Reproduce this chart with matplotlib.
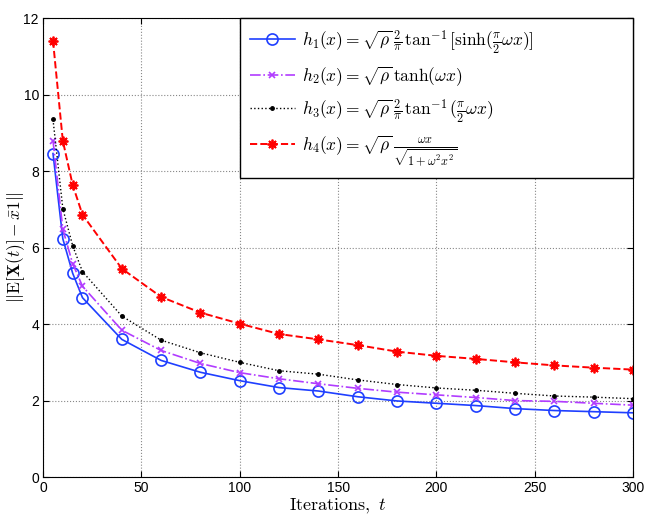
import numpy as np
import matplotlib
matplotlib.use('Agg')
import matplotlib.pyplot as plt

plt.rcParams['mathtext.fontset'] = 'cm'
plt.rcParams['font.family'] = ['Liberation Sans', 'DejaVu Sans']

# iterations
t = [5, 10, 15, 20, 40, 60, 80, 100, 120, 140, 160, 180, 200, 220, 240, 260, 280, 300]

# error norms
h1 = [8.46, 6.23, 5.33, 4.69, 3.60, 3.05, 2.74, 2.52, 2.34, 2.25, 2.10, 1.99, 1.93, 1.87, 1.79, 1.74, 1.71, 1.68]
h2 = [8.80, 6.48, 5.58, 4.99, 3.84, 3.31, 2.97, 2.73, 2.57, 2.44, 2.32, 2.22, 2.15, 2.08, 2.00, 1.98, 1.93, 1.88]
h3 = [9.35, 7.02, 6.05, 5.37, 4.21, 3.58, 3.25, 3.00, 2.78, 2.69, 2.54, 2.42, 2.33, 2.27, 2.19, 2.12, 2.09, 2.05]
h4 = [11.41, 8.79, 7.64, 6.86, 5.45, 4.71, 4.30, 4.01, 3.74, 3.60, 3.45, 3.28, 3.17, 3.09, 3.00, 2.92, 2.86, 2.81]

labels = [
    r'$h_1(x) = \sqrt{\rho}\,\frac{2}{\pi}\,\tan^{-1}[\sinh(\frac{\pi}{2}\omega x)]$',
    r'$h_2(x) = \sqrt{\rho}\,\tanh(\omega x)$',
    r'$h_3(x) = \sqrt{\rho}\,\frac{2}{\pi}\,\tan^{-1}(\frac{\pi}{2}\omega x)$',
    r'$h_4(x) = \sqrt{\rho}\,\frac{\omega x}{\sqrt{1+\omega^2 x^2}}$',
]

fig = plt.figure(figsize=(6.54, 5.18), dpi=100)
ax = fig.add_axes([0.066, 0.079, 0.902, 0.886])

ax.plot(t, h1, '-', color='#1f3fff', marker='o', mfc='none', ms=8, mew=1.2, lw=1.2, label=labels[0])
ax.plot(t, h2, '-.', color='#b13cff', marker='x', ms=5, mew=1.2, lw=1.2, label=labels[1])
ax.plot(t, h3, ':', color='black', marker='.', ms=5, lw=1.0, label=labels[2])
ax.plot(t, h4, '--', color='#ff0000', marker=(8, 2, 0), ms=7, mew=1.3, lw=1.4, label=labels[3])

ax.set_xlim(0, 300)
ax.set_ylim(0, 12)
ax.set_xticks(np.arange(0, 301, 50))
ax.set_yticks(np.arange(0, 13, 2))
ax.grid(True, linestyle=':', color='#888888', lw=0.8)
ax.tick_params(direction='in', top=True, right=True, labelsize=10, length=4, pad=3)

ax.set_xlabel(r'$\mathrm{Iterations,}\ t$', fontsize=13, labelpad=1)
ax.set_ylabel(r'$||\mathrm{E}[\mathbf{X}(t)]-\bar{x}\mathbf{1}||$', fontsize=12.5, labelpad=0)
ax.yaxis.set_label_coords(-0.028, 0.5)

leg = ax.legend(loc='upper left', bbox_to_anchor=(0.334, 0.669, 0.666, 0.331), mode='expand',
                fontsize=12.5, handlelength=2.6, handletextpad=0.4, borderaxespad=0,
                labelspacing=0.5, fancybox=False, framealpha=1, edgecolor='black', borderpad=0.55)
leg.get_frame().set_linewidth(1.0)

fig.savefig('out.png', dpi=100)
